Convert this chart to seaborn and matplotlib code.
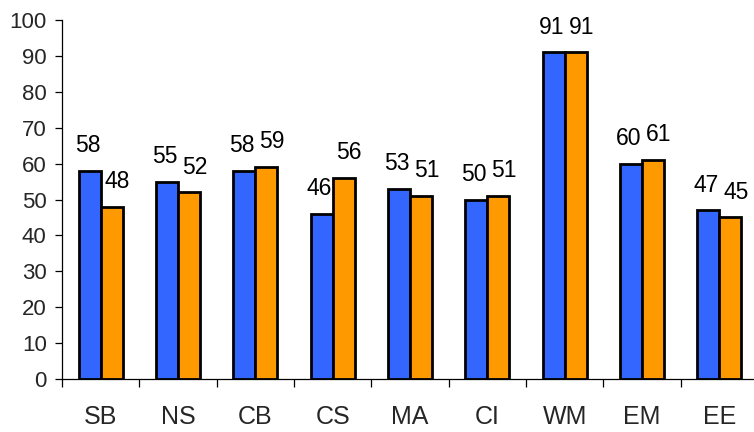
import matplotlib
matplotlib.use("Agg")
import matplotlib.pyplot as plt
import seaborn as sns
import pandas as pd
import numpy as np
from matplotlib.ticker import FixedLocator, MultipleLocator

categories = ["SB", "NS", "CB", "CS", "MA", "CI", "WM", "EM", "EE"]
series_a = [58, 55, 58, 46, 53, 50, 91, 60, 47]
series_b = [48, 52, 59, 56, 51, 51, 91, 61, 45]
series_names = ["A", "B"]
colors = ["#3366FF", "#FF9900"]

df = pd.DataFrame({
    "category": categories * 2,
    "value": series_a + series_b,
    "series": [series_names[0]] * len(categories) + [series_names[1]] * len(categories),
})

sns.set_theme(style="white")
plt.rcParams["font.family"] = ["Liberation Sans", "DejaVu Sans"]

fig = plt.figure(figsize=(7.54, 4.32), dpi=100)
ax = fig.add_axes([62 / 754, 53 / 432, 696 / 754, 359 / 432])

sns.barplot(data=df, x="category", y="value", hue="series", order=categories,
            hue_order=series_names, palette=colors, width=0.57, gap=0,
            edgecolor="black", linewidth=2.0, saturation=1, legend=False, ax=ax)

ax.set_xlim(-0.5, len(categories) - 0.5)
ax.set_ylim(0, 100)
ax.yaxis.set_major_locator(MultipleLocator(10))
ax.set_xlabel("")
ax.set_ylabel("")

for s in ["top", "right"]:
    ax.spines[s].set_visible(False)
for s in ["left", "bottom"]:
    ax.spines[s].set_color("black")
    ax.spines[s].set_linewidth(0.9)

ax.tick_params(axis="y", which="major", direction="out", length=5, width=0.9,
               color="black", labelsize=16, pad=6, left=True)
ax.tick_params(axis="x", which="major", length=0, labelsize=18, pad=19)
ax.xaxis.set_minor_locator(FixedLocator(np.arange(-0.5, len(categories), 1.0)))
ax.tick_params(axis="x", which="minor", direction="out", length=6, width=0.9,
               color="black", bottom=True)

# value labels above each bar
x_shift = [-1.5, 4.0]
for container, dx in zip(ax.containers, x_shift):
    for bar in container:
        h = bar.get_height()
        ax.annotate(f"{h:.0f}", (bar.get_x() + bar.get_width() / 2, h),
                    xytext=(dx, 13.5), textcoords="offset points",
                    ha="center", va="baseline", fontsize=16.5, color="black")

fig.savefig("out.png", dpi=100)
